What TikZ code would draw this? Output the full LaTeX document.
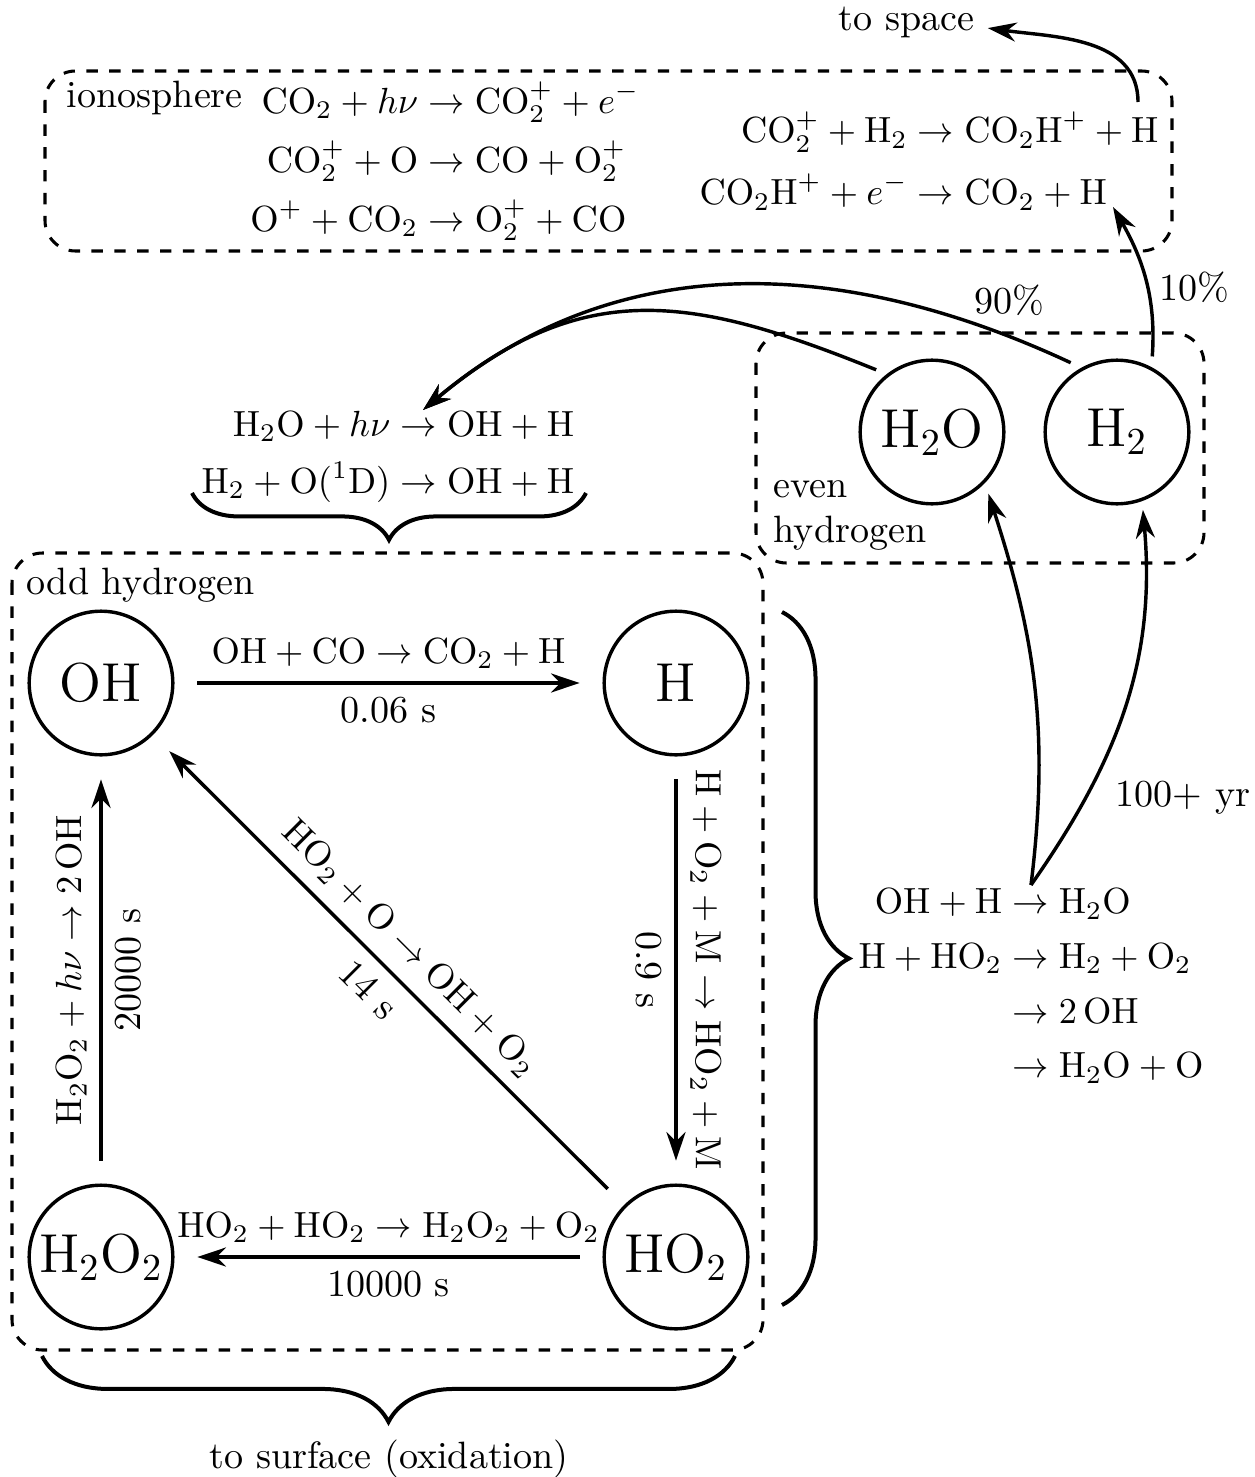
\documentclass[tikz,border=0pt]{standalone}
\usepackage{amsmath}
\usepackage{graphicx}
\usetikzlibrary{arrows.meta,decorations.pathreplacing}
\newcommand{\chm}[1]{\mathrm{#1}}
\newcommand{\eqs}[1]{\scalebox{0.955}{#1}}
\begin{document}
\begin{tikzpicture}[x=0.2625pt,y=-0.2625pt,
  species/.style={circle,draw,line width=0.9pt,minimum size=37.7pt,inner sep=0pt,font=\Large},
  group/.style={draw,dashed,line width=0.8pt,rounded corners=8pt},
  rxn/.style={-{Stealth[length=7.5pt,width=5pt]},line width=0.9pt,shorten <=6pt,shorten >=6pt},
  flow/.style={-{Stealth[length=7.5pt,width=5pt]},line width=0.9pt},
  brc/.style={decorate,line width=1.05pt},
  lbl/.style={inner sep=0pt}
]
\useasboundingbox (0,0) rectangle (1255,1477);

% group boxes
\draw[group] (45,71) rectangle (1172,251);
\draw[group] (12,553) rectangle (763,1350);
\draw[group] (756,333) rectangle (1204,563);

% box labels
\node[lbl,anchor=base west] (iono) at (66,107) {ionosphere};
\node[lbl,anchor=base west] (odd) at (26,594) {odd hydrogen};
\node[lbl,anchor=base west] (even1) at (773,497) {even};
\node[lbl,anchor=base west] (even2) at (773,542) {hydrogen};

% species
\node[species] (OH) at (101,683) {OH};
\node[species] (H) at (676,683) {H};
\node[species] (H2O2) at (101,1257) {H$_2$O$_2$};
\node[species] (HO2) at (676,1257) {HO$_2$};
\node[species] (H2O) at (932,432) {H$_2$O};
\node[species] (H2) at (1117,432) {H$_2$};

% reaction blocks
\node (ionoL) at (445,163) {\eqs{$\begin{aligned}
  \chm{CO_2} + h\nu &\rightarrow \chm{CO_2^+} + e^- \\
  \chm{CO_2^+} + \chm{O} &\rightarrow \chm{CO} + \chm{O_2^+} \\
  \chm{O^+} + \chm{CO_2} &\rightarrow \chm{O_2^+} + \chm{CO}
\end{aligned}$}};
\node (ionoR) at (929,164.5) {\eqs{$\begin{aligned}
  \chm{CO_2^+} + \chm{H_2} &\rightarrow \chm{CO_2H^+} + \chm{H} \\[1pt]
  \chm{CO_2H^+} + e^- &\rightarrow \chm{CO_2} + \chm{H}
\end{aligned}$}};
\node (photo) at (388,456) {\eqs{$\begin{aligned}
  \chm{H_2O} + h\nu &\rightarrow \chm{OH} + \chm{H} \\[-0.6pt]
  \chm{H_2} + \chm{O(^1D)} &\rightarrow \chm{OH} + \chm{H}
\end{aligned}$}};
\node (loss) at (1031,987) {\eqs{$\begin{aligned}
  \chm{OH} + \chm{H} &\rightarrow \chm{H_2O} \\
  \chm{H} + \chm{HO_2} &\rightarrow \chm{H_2} + \chm{O_2} \\
  &\rightarrow 2\,\chm{OH} \\
  &\rightarrow \chm{H_2O} + \chm{O}
\end{aligned}$}};

% other labels
\node[anchor=base] (tospace) at (906.5,30) {to space};
\node[lbl,anchor=base] (surf) at (389,1468) {to surface (oxidation)};
\node (p90) at (1009,300) {90\%};
\node (p10) at (1194,287) {10\%};
\node (yr) at (1183,798) {100+ yr};

% odd hydrogen cycle
\draw[rxn] (OH) -- node[above] (l1) {\eqs{$\chm{OH} + \chm{CO} \rightarrow \chm{CO_2} + \chm{H}$}}
                   node[below] (l2) {0.06 s} (H);
\draw[rxn] (H) -- node[rotate=-90,anchor=south] (l3) {\eqs{$\chm{H} + \chm{O_2} + \chm{M} \rightarrow \chm{HO_2} + \chm{M}$}}
                  node[rotate=-90,anchor=north] (l4) {0.9 s} (HO2);
\draw[rxn] (HO2) -- node[rotate=-45,anchor=south] (l5) {\eqs{$\chm{HO_2} + \chm{O} \rightarrow \chm{OH} + \chm{O_2}$}}
                    node[rotate=-45,anchor=north] (l6) {14 s} (OH);
\draw[rxn] (H2O2) -- node[rotate=90,anchor=south] (l7) {\eqs{$\chm{H_2O_2} + h\nu \rightarrow 2\,\chm{OH}$}}
                     node[rotate=90,anchor=north] (l8) {20000 s} (OH);
\draw[rxn] (HO2) -- node[above] (l9) {\eqs{$\chm{HO_2} + \chm{HO_2} \rightarrow \chm{H_2O_2} + \chm{O_2}$}}
                    node[below] (l10) {10000 s} (H2O2);

% connector end points
\coordinate (photoIn) at (423,410);
\coordinate (escape) at (1138,102);
\coordinate (ionH) at (1113,207);
\coordinate (split) at (1031,885);

% curved connectors
\draw[flow,shorten <=3.1pt] (H2.119) to[out=155,in=40] (photoIn);
\draw[flow,shorten <=3pt] (H2O.128) to[out=158,in=40,looseness=1.15] (photoIn);
\draw[flow,shorten <=2.8pt] (H2.62) to[out=86,in=-60] (ionH);
\draw[flow] (escape) to[out=90,in=-8] ([yshift=-1.6pt]tospace.east);
\draw[flow,shorten >=2.9pt] (split) to[out=83,in=-72] (H2O.-44);
\draw[flow,shorten >=2.3pt] (split) to[out=55,in=-85] (H2.-70);

% braces
\coordinate (b1s) at (192,493);
\coordinate (b1e) at (586,493);
\coordinate (b2s) at (782,612);
\coordinate (b2e) at (782,1305);
\coordinate (b3s) at (42,1356);
\coordinate (b3e) at (735,1356);
\draw[brc,decoration={brace,mirror,amplitude=12.3pt}] (b1s) -- (b1e);
\draw[brc,decoration={brace,amplitude=17.6pt}] (b2s) -- (b2e);
\draw[brc,decoration={brace,mirror,amplitude=17.3pt}] (b3s) -- (b3e);
\end{tikzpicture}
\end{document}
